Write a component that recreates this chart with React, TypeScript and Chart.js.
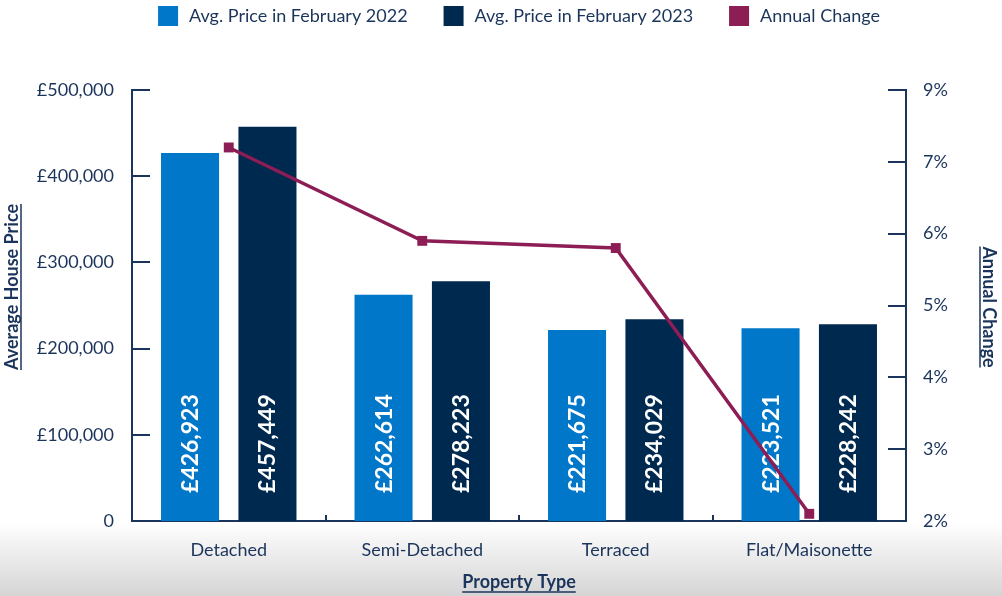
import React, { useEffect, useRef } from 'react';
import { Chart, registerables } from 'chart.js';

Chart.register(...registerables);

const categories = ['Detached', 'Semi-Detached', 'Terraced', 'Flat/Maisonette'];
const price2022 = [426923, 262614, 221675, 223521];
const price2023 = [457449, 278223, 234029, 228242];
const annualChange = [7.2, 5.9, 5.8, 2.1];
const leftTickLabels = ['0', '£100,000', '£200,000', '£300,000', '£400,000', '£500,000'];
const rightTickLabels = ['2%', '3%', '4%', '5%', '6%', '7%', '9%'];
const seriesLabels = ['Avg. Price in February 2022', 'Avg. Price in February 2023', 'Annual Change'];
const leftTitle = 'Average House Price';
const rightTitle = 'Annual Change';
const bottomTitle = 'Property Type';

const LIGHT = '#0077c8';
const DARK = '#00294f';
const LINE = '#8d1d55';
const NAVY = '#1b345b';
const FONT = 'Lato';

const bgPlugin = {
  id: 'bg',
  beforeDraw(chart: any) {
    const { ctx, width, height } = chart;
    ctx.save();
    ctx.fillStyle = '#ffffff';
    ctx.fillRect(0, 0, width, height);
    const top = chart.chartArea.bottom + 1;
    const g = ctx.createLinearGradient(0, top, 0, height);
    g.addColorStop(0, '#ffffff');
    g.addColorStop(1, '#d5d5d5');
    ctx.fillStyle = g;
    ctx.fillRect(0, top, width, height - top);
    ctx.restore();
  },
};

const barLabelPlugin = {
  id: 'barLabels',
  afterDatasetDraw(chart: any, args: any) {
    const meta = args.meta;
    if (meta.type !== 'bar') return;
    const ds = chart.data.datasets[args.index];
    const { ctx } = chart;
    ctx.save();
    ctx.fillStyle = '#ffffff';
    ctx.font = `bold 23px ${FONT}`;
    ctx.textAlign = 'left';
    ctx.textBaseline = 'alphabetic';
    meta.data.forEach((el: any, i: number) => {
      const v = ds.data[i] as number;
      const txt = '£' + v.toLocaleString('en-GB');
      ctx.save();
      ctx.translate(el.x + 8, el.base - 28);
      ctx.rotate(-Math.PI / 2);
      ctx.fillText(txt, 0, 0);
      ctx.restore();
    });
    ctx.restore();
  },
};

const decorPlugin = {
  id: 'decor',
  afterDraw(chart: any) {
    const { ctx, chartArea } = chart;
    const sy = chart.scales.y;
    const sy1 = chart.scales.y1;
    const sx = chart.scales.x;
    ctx.save();
    // tick marks (inward)
    ctx.strokeStyle = NAVY;
    ctx.lineWidth = 2;
    sy.ticks.forEach((t: any) => {
      if (t.value === sy.min) return;
      const y = Math.round(sy.getPixelForValue(t.value));
      ctx.beginPath();
      ctx.moveTo(chartArea.left, y);
      ctx.lineTo(chartArea.left + 18, y);
      ctx.stroke();
    });
    sy1.ticks.forEach((t: any) => {
      if (t.value === sy1.min) return;
      const y = Math.round(sy1.getPixelForValue(t.value));
      ctx.beginPath();
      ctx.moveTo(chartArea.right - 18, y);
      ctx.lineTo(chartArea.right, y);
      ctx.stroke();
    });
    for (let i = 1; i < categories.length; i++) {
      const x = Math.round((sx.getPixelForValue(i - 1) + sx.getPixelForValue(i)) / 2);
      ctx.beginPath();
      ctx.moveTo(x, chartArea.bottom);
      ctx.lineTo(x, chartArea.bottom - 6);
      ctx.stroke();
    }

    // axis titles
    ctx.fillStyle = NAVY;
    ctx.strokeStyle = NAVY;
    ctx.lineWidth = 1.5;
    ctx.font = `bold 18px ${FONT}`;
    ctx.textAlign = 'center';
    ctx.textBaseline = 'alphabetic';
    // left
    let w = ctx.measureText(leftTitle).width;
    ctx.save();
    ctx.translate(18, 287);
    ctx.rotate(-Math.PI / 2);
    ctx.fillText(leftTitle, 0, 0);
    ctx.beginPath();
    ctx.moveTo(-w / 2, 3);
    ctx.lineTo(w / 2, 3);
    ctx.stroke();
    ctx.restore();
    // right
    w = ctx.measureText(rightTitle).width;
    ctx.save();
    ctx.translate(983, 307);
    ctx.rotate(Math.PI / 2);
    ctx.fillText(rightTitle, 0, 0);
    ctx.beginPath();
    ctx.moveTo(-w / 2, 3);
    ctx.lineTo(w / 2, 3);
    ctx.stroke();
    ctx.restore();
    // bottom
    w = ctx.measureText(bottomTitle).width;
    const cx = (chartArea.left + chartArea.right) / 2;
    ctx.fillText(bottomTitle, cx, 588);
    ctx.beginPath();
    ctx.moveTo(cx - w / 2, 592);
    ctx.lineTo(cx + w / 2, 592);
    ctx.stroke();

    // legend
    ctx.font = `18px ${FONT}`;
    ctx.textAlign = 'left';
    ctx.textBaseline = 'middle';
    const items = chart.data.datasets.map((d: any) => ({
      label: d.label as string,
      color: (d.type === 'line' ? d.borderColor : d.backgroundColor) as string,
    }));
    const box = 20, gap = 11, spacing = 36;
    const widths = items.map((it: any) => box + gap + ctx.measureText(it.label).width);
    const total = widths.reduce((a: number, b: number) => a + b, 0) + spacing * (items.length - 1);
    let x = cx - total / 2;
    items.forEach((it: any, i: number) => {
      ctx.fillStyle = it.color;
      ctx.fillRect(x, 6, box, box);
      ctx.fillStyle = NAVY;
      ctx.fillText(it.label, x + box + gap, 16);
      x += widths[i] + spacing;
    });
    ctx.restore();
  },
};

export default function App() {
  const ref = useRef<HTMLCanvasElement | null>(null);
  useEffect(() => {
    document.body.style.margin = '0';
    document.body.style.overflow = 'hidden';
    if (!ref.current) return;
    const chart = new Chart(ref.current, {
      type: 'bar',
      data: {
        labels: categories,
        datasets: [
          {
            type: 'bar',
            label: seriesLabels[0],
            data: price2022,
            yAxisID: 'y',
            backgroundColor: LIGHT,
            categoryPercentage: 0.8,
            barPercentage: 0.75,
            order: 1,
          },
          {
            type: 'bar',
            label: seriesLabels[1],
            data: price2023,
            yAxisID: 'y',
            backgroundColor: DARK,
            categoryPercentage: 0.8,
            barPercentage: 0.75,
            order: 2,
          },
          {
            type: 'line',
            label: seriesLabels[2],
            data: annualChange,
            yAxisID: 'y1',
            borderColor: LINE,
            backgroundColor: LINE,
            borderWidth: 3.5,
            pointStyle: 'rect',
            pointRadius: 7,
            pointBorderWidth: 0,
            pointBackgroundColor: LINE,
            tension: 0,
            order: 0,
          } as any,
        ],
      },
      options: {
        responsive: false,
        maintainAspectRatio: false,
        animation: false,
        layout: { padding: { top: 90, left: 0, right: 0, bottom: 0 } },
        plugins: {
          legend: { display: false },
          tooltip: { enabled: false },
        },
        scales: {
          x: {
            grid: { display: false },
            border: { display: true, color: NAVY, width: 2 },
            ticks: { color: NAVY, font: { family: FONT, size: 18 }, padding: 10, maxRotation: 0 },
            afterFit: (s: any) => { s.height = 75; },
          },
          y: {
            position: 'left',
            min: 0,
            max: 500000,
            grid: { display: false },
            border: { display: true, color: NAVY, width: 2 },
            ticks: {
              stepSize: 100000,
              color: NAVY,
              font: { family: FONT, size: 18 },
              padding: 10,
              callback: (_v: any, i: number) => leftTickLabels[i],
            },
            afterFit: (s: any) => { s.width = 132; },
          },
          y1: {
            position: 'right',
            min: 2,
            max: 8,
            grid: { display: false },
            border: { display: true, color: NAVY, width: 2 },
            ticks: {
              stepSize: 1,
              color: NAVY,
              font: { family: FONT, size: 18 },
              padding: 9,
              callback: (_v: any, i: number) => rightTickLabels[i],
            },
            afterFit: (s: any) => { s.width = 96; },
          },
        },
      },
      plugins: [bgPlugin, barLabelPlugin, decorPlugin],
    });
    return () => chart.destroy();
  }, []);
  return (
    <div style={{ width: 1002, height: 596 }}>
      <canvas ref={ref} width={1002} height={596} style={{ display: 'block' }} />
    </div>
  );
}
